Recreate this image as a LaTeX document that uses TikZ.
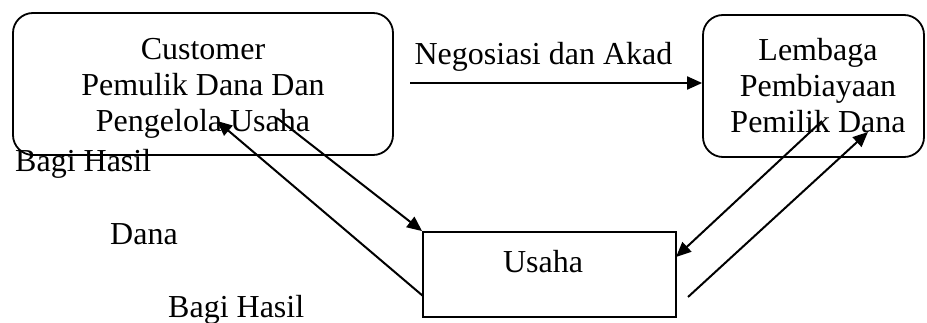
\documentclass[tikz,border=0pt]{standalone}
\usepackage{fontspec}
\setmainfont{Liberation Serif}
\usetikzlibrary{arrows.meta}
\tikzset{
  txt/.style={font=\fontsize{32}{36}\selectfont, inner sep=0pt},
  btxt/.style={font=\fontsize{32}{36}\selectfont, inner sep=0pt, align=center},
  rbox/.style={draw, line width=1.8pt, rounded corners=20pt},
  sbox/.style={draw, line width=1.8pt},
  conn/.style={line width=2pt, -{Triangle[length=15pt,width=13pt]}}
}
\begin{document}
\begin{tikzpicture}[x=1pt,y=-1pt]
\useasboundingbox (0,0) rectangle (927,323);
\node[rbox, minimum width=380pt, minimum height=142pt] (cust) at (203,84) {};
\node[btxt, anchor=base] (custtxt) at (203,132) {Customer\\Pemulik Dana Dan\\Pengelola Usaha};
\node[rbox, minimum width=221pt, minimum height=142pt] (lem) at (813.5,86) {};
\node[btxt, anchor=base] (lemtxt) at (818,133) {Lembaga\\Pembiayaan\\Pemilik Dana};
\node[sbox, minimum width=253pt, minimum height=85pt] (usaha) at (549.5,274.5) {};
\node[txt, anchor=base] (usahatxt) at (543,273) {Usaha};
\node[txt, anchor=base] (nego) at (543.5,65) {Negosiasi dan Akad};
\node[txt, anchor=base west] (bh1) at (15,172) {Bagi Hasil};
\node[txt, anchor=base west] (dana) at (110,245) {Dana};
\node[txt, anchor=base west] (bh2) at (168,318) {Bagi Hasil};
\coordinate (negs) at (410,83);
\coordinate (a1s) at (277,118);
\coordinate (a2s) at (423,296);
\coordinate (a2e) at (217,121);
\coordinate (a3s) at (822,121);
\coordinate (a3e) at (676,257);
\coordinate (a4s) at (688,297);
\coordinate (a4e) at (868,132);
\draw[conn] (negs) -- (negs -| lem.west);
\draw[conn] (a1s) -- (usaha.north west);
\draw[conn] (a2s) -- (a2e);
\draw[conn] (a3s) -- (a3e);
\draw[conn] (a4s) -- (a4e);
\end{tikzpicture}
\end{document}
